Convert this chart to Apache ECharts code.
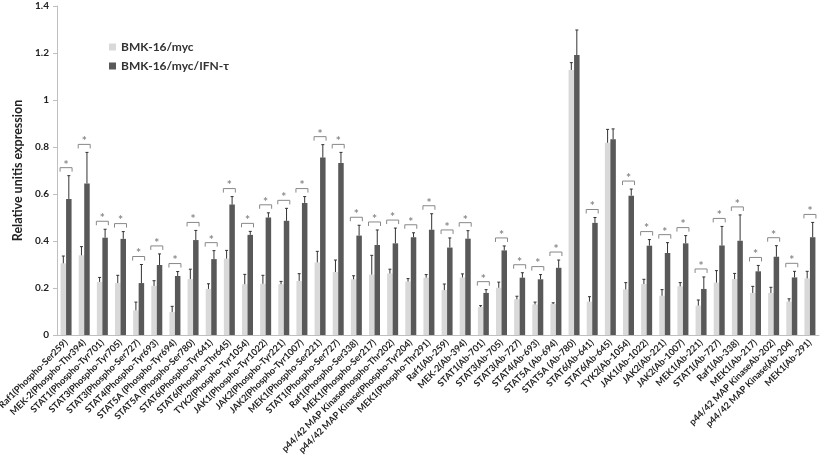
<!DOCTYPE html>
<html><head><meta charset="utf-8">
<script src="https://cdn.jsdelivr.net/npm/echarts@6/dist/echarts.min.js"></script>
<style>html,body{margin:0;padding:0;background:#fff}#c{width:824px;height:457px}</style>
</head><body><div id="c"></div>
<script>
const categories = ["Raf1(Phospho-Ser259)","MEK-2(Phospho-Thr394)","STAT1(Phospho-Tyr701)","STAT3(Phospho-Tyr705)","STAT3(Phospho-Ser727)","STAT4(Phospho-Tyr693)","STAT5A (Phospho-Tyr694)","STAT5A (Phospho-Ser780)","STAT6(Phospho-Tyr641)","STAT6(Phospho-Thr645)","TYK2(Phospho-Tyr1054)","JAK1(Phospho-Tyr1022)","JAK2(Phospho-Tyr221)","JAK2(Phospho-Tyr1007)","MEK1(Phospho-Ser221)","STAT1(Phospho-Ser727)","Raf1(Phospho-Ser338)","MEK1(Phospho-Ser217)","p44/42 MAP KinasePhospho-Thr202)","p44/42 MAP Kinase(Phospho-Tyr204)","MEK1(Phospho-Thr291)","Raf1(Ab-259)","MEK-2(Ab-394)","STAT1(Ab-701)","STAT3(Ab-705)","STAT3(Ab-727)","STAT4(Ab-693)","STAT5A (Ab-694)","STAT5A (Ab-780)","STAT6(Ab-641)","STAT6(Ab-645)","TYK2(Ab-1054)","JAK1(Ab-1022)","JAK2(Ab-221)","JAK2(Ab-1007)","MEK1(Ab-221)","STAT1(Ab-727)","Raf1(Ab-338)","MEK1(Ab-217)","p44/42 MAP KinaseAb-202)","p44/42 MAP Kinase(Ab-204)","MEK1(Ab-291)"];
const seriesNames = ["BMK-16/myc","BMK-16/myc/IFN-τ"];
const control = [0.305,0.339,0.226,0.221,0.105,0.209,0.098,0.238,0.196,0.325,0.216,0.218,0.216,0.23,0.309,0.268,0.237,0.257,0.262,0.227,0.244,0.191,0.245,0.119,0.201,0.152,0.13,0.132,1.128,0.142,0.818,0.194,0.217,0.167,0.207,0.125,0.223,0.238,0.179,0.179,0.142,0.241];
const controlErr = [0.031,0.037,0.019,0.033,0.035,0.022,0.024,0.042,0.022,0.035,0.042,0.036,0.012,0.031,0.047,0.051,0.015,0.082,0.018,0.013,0.013,0.026,0.015,0.006,0.024,0.013,0.01,0.005,0.031,0.021,0.057,0.029,0.02,0.026,0.016,0.024,0.051,0.024,0.028,0.024,0.012,0.03];
const treated = [0.579,0.645,0.414,0.409,0.221,0.298,0.251,0.404,0.323,0.555,0.426,0.5,0.486,0.562,0.755,0.732,0.423,0.383,0.39,0.416,0.448,0.372,0.41,0.179,0.36,0.244,0.237,0.286,1.191,0.477,0.833,0.593,0.38,0.349,0.39,0.196,0.381,0.401,0.271,0.333,0.245,0.416];
const treatedErr = [0.099,0.132,0.036,0.031,0.079,0.047,0.019,0.041,0.036,0.034,0.015,0.02,0.053,0.027,0.055,0.045,0.044,0.064,0.065,0.019,0.068,0.041,0.034,0.014,0.019,0.021,0.02,0.033,0.107,0.023,0.044,0.028,0.026,0.044,0.033,0.051,0.081,0.11,0.025,0.047,0.026,0.063];
const significant = [1,1,1,1,1,1,1,1,1,1,1,1,1,1,1,1,1,1,1,1,1,1,1,1,1,1,1,1,0,1,0,1,1,1,1,1,1,1,1,1,1,1];
const yTicks = {min:0, max:1.4, interval:0.2};

const chart = echarts.init(document.getElementById('c'));
const BW = 5.5;
function renderItem(params, api){
  const i = api.value(0);
  const children = [];
  const errCol = '#333';
  const bars = [[control[i], controlErr[i], -BW/2],[treated[i], treatedErr[i], BW/2]];
  let topY = Infinity;
  bars.forEach(b=>{
    const base = api.coord([i, b[0]]);
    const top = api.coord([i, b[0]+b[1]]);
    const x = base[0] + b[2];
    topY = Math.min(topY, top[1]);
    children.push({type:'line', shape:{x1:x,y1:base[1],x2:x,y2:top[1]}, style:{stroke:errCol,lineWidth:1}});
    children.push({type:'line', shape:{x1:x-1.5,y1:top[1],x2:x+1.5,y2:top[1]}, style:{stroke:errCol,lineWidth:1}});
  });
  if (significant[i]) {
    const cx = api.coord([i,0])[0];
    const by = topY - 8;
    children.push({type:'polyline', shape:{points:[[cx-6,by+4],[cx-6,by],[cx+6,by],[cx+6,by+4]]}, style:{stroke:'#888',lineWidth:1,fill:null}});
    children.push({type:'text', style:{text:'*', x:cx, y:by-3, align:'center', verticalAlign:'middle', fill:'#888', font:'bold 12px Lato'}});
  }
  return {type:'group', children};
}

chart.setOption({
  animation:false,
  textStyle:{fontFamily:'Lato'},
  grid:{left:57, right:5, top:6, bottom:122, containLabel:false, outerBoundsMode:'none'},
  legend:{
    data:seriesNames, orient:'vertical', left:104, top:36, itemGap:7,
    icon:'rect', itemWidth:7, itemHeight:7,
    textStyle:{fontFamily:'Lato', fontWeight:'bold', fontSize:12, color:'#333'}
  },
  xAxis:{
    type:'category', data:categories,
    axisLine:{lineStyle:{color:'#bfbfbf'}},
    axisTick:{show:false},
    axisLabel:{rotate:45, interval:0, fontSize:9.2, fontWeight:'bold', color:'#222', margin:6, fontFamily:'Lato'}
  },
  yAxis:{
    type:'value', min:yTicks.min, max:yTicks.max, interval:yTicks.interval,
    name:'Relative unitis expression', nameLocation:'middle', nameGap:28,
    nameTextStyle:{fontSize:12.5, fontWeight:'bold', color:'#222', fontFamily:'Lato'},
    axisLine:{show:true, lineStyle:{color:'#bfbfbf'}},
    axisTick:{show:true, length:4, lineStyle:{color:'#bfbfbf'}},
    splitLine:{show:false},
    axisLabel:{fontSize:10, fontWeight:'bold', color:'#222', margin:8, fontFamily:'Lato'}
  },
  series:[
    {name:seriesNames[0], type:'bar', data:control, barWidth:BW, barGap:'0%', itemStyle:{color:'#d9d9d9'}},
    {name:seriesNames[1], type:'bar', data:treated, barWidth:BW, itemStyle:{color:'#595959'}},
    {type:'custom', renderItem, data:categories.map((c,i)=>[i]), encode:{x:0}, z:5, silent:true}
  ]
});
</script></body></html>
